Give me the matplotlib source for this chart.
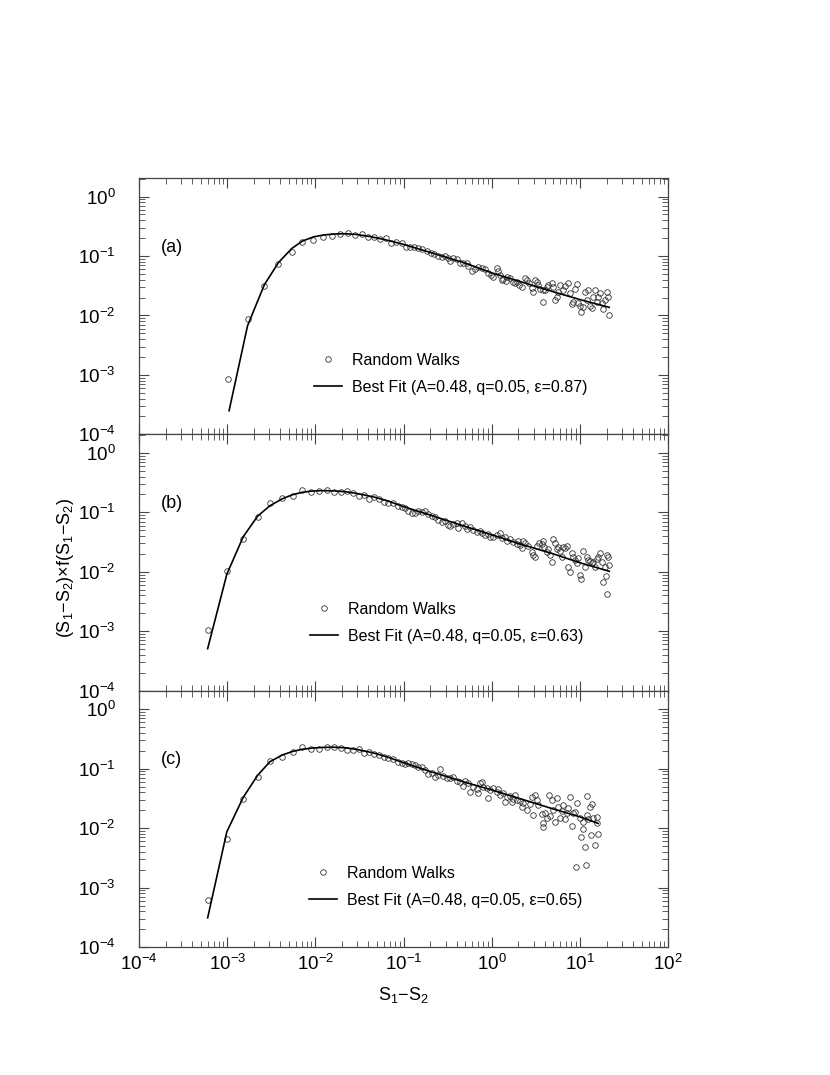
import numpy as np
import matplotlib.pyplot as plt
from matplotlib.ticker import LogLocator, NullFormatter
from matplotlib.legend_handler import HandlerLine2D

plt.rcParams['font.family'] = ['Liberation Sans', 'DejaVu Sans']
plt.rcParams['mathtext.fontset'] = 'custom'
plt.rcParams['mathtext.rm'] = 'Liberation Sans'
plt.rcParams['mathtext.it'] = 'Liberation Sans:italic'
plt.rcParams['mathtext.default'] = 'regular'

# ---- panel (a) ----
xa_rw = [1.03e-3, 1.7e-3, 2.64e-3, 3.8e-3, 5.4e-3, 7.1e-3, 9.5e-3, 0.0123, 0.0156, 0.019,
         0.0233, 0.0282, 0.034, 0.0398, 0.0466, 0.054, 0.0627, 0.072, 0.082,
         0.095, 0.106, 0.118, 0.131, 0.147, 0.163, 0.182, 0.203, 0.223, 0.248,
         0.27, 0.294, 0.321, 0.336, 0.366, 0.399, 0.435, 0.475, 0.519, 0.542,
         0.591, 0.644, 0.703, 0.767, 0.837, 0.914, 0.97, 1.04, 1.135, 1.186,
         1.24, 1.29, 1.35, 1.45, 1.5, 1.61, 1.72, 1.83, 1.95, 2.05,
         2.18, 2.38, 2.48, 2.66, 2.83, 2.96, 3.09, 3.23, 3.37, 3.52,
         3.77, 3.84, 4.01, 4.19, 4.37, 4.77, 4.99, 5.2, 5.43, 5.67,
         5.93, 6.47, 6.76, 7.25, 7.7, 8.04, 8.4, 8.77, 9.16, 9.57,
         10.0, 10.4, 10.9, 11.4, 11.9, 12.4, 13.0, 13.6, 14.2, 14.8,
         15.5, 16.1, 16.9, 17.6, 18.4, 19.2, 20.0, 20.9, 21.5]
ya_rw = [8.5e-4, 8.8e-3, 0.031, 0.074, 0.117, 0.172, 0.186, 0.207, 0.22, 0.232,
         0.247, 0.229, 0.234, 0.207, 0.207, 0.19, 0.20, 0.167, 0.174,
         0.164, 0.140, 0.140, 0.140, 0.135, 0.133, 0.121, 0.114, 0.108, 0.100,
         0.0975, 0.101, 0.0914, 0.0834, 0.0925, 0.090, 0.0752, 0.0772, 0.0752, 0.0678,
         0.0566, 0.0596, 0.0644, 0.0619, 0.0596, 0.0523, 0.0478, 0.0437, 0.0619, 0.0558,
         0.0478, 0.0394, 0.0404, 0.0379, 0.0437, 0.042, 0.0369, 0.0346, 0.0369, 0.0324,
         0.0304, 0.042, 0.0394, 0.0355, 0.0285, 0.025, 0.0394, 0.0369, 0.0324, 0.0274,
         0.0166, 0.0267, 0.0267, 0.0296, 0.0324, 0.0346, 0.0304, 0.0181, 0.0206, 0.025,
         0.0324, 0.0267, 0.0312, 0.0355, 0.0235, 0.0155, 0.017, 0.0274, 0.0337, 0.0159,
         0.0144, 0.0115, 0.014, 0.025, 0.0181, 0.0267, 0.0144, 0.0131, 0.0206, 0.0267,
         0.017, 0.0206, 0.0235, 0.0159, 0.0126, 0.0181, 0.025, 0.0201, 0.0101]
xa_fit = [1.05e-3, 1.7e-3, 2.64e-3, 3.8e-3, 5.4e-3, 7.1e-3, 9.5e-3, 0.0125, 0.016, 0.021,
          0.028, 0.04, 0.06, 0.1, 0.2, 0.5, 1.0, 2.0, 5.0, 10.0, 21.5]
ya_fit = [2.5e-4, 6.7e-3, 0.033, 0.077, 0.134, 0.178, 0.21, 0.226, 0.234, 0.237,
          0.232, 0.215, 0.19, 0.157, 0.115, 0.076, 0.052, 0.038, 0.025, 0.0185, 0.0137]

# ---- panel (b) ----
xb_rw = [6.0e-4, 9.9e-4, 1.52e-3, 2.22e-3, 3.05e-3, 4.2e-3, 5.5e-3, 7.05e-3, 9.0e-3, 0.011,
         0.0134, 0.0164, 0.0194, 0.0226, 0.0269, 0.0315, 0.0359, 0.0409, 0.0466, 0.053,
         0.0605, 0.067, 0.0765, 0.0857,
         0.095, 0.104, 0.113, 0.123, 0.135, 0.147, 0.160, 0.175, 0.191, 0.208,
         0.227, 0.248, 0.27, 0.294, 0.321, 0.336, 0.366, 0.399, 0.417, 0.455,
         0.497, 0.519, 0.566, 0.617, 0.673, 0.735, 0.767, 0.837, 0.914, 0.953,
         1.04, 1.135, 1.24, 1.29, 1.41, 1.47, 1.61, 1.75, 1.91, 2.0,
         2.09, 2.18, 2.28, 2.38, 2.59, 2.83, 2.96, 3.09, 3.23, 3.46,
         3.67, 3.77, 3.91, 4.19, 4.37, 4.57, 4.77, 4.99, 5.2, 5.43,
         5.67, 5.93, 6.19, 6.47, 6.76, 7.06, 7.38, 7.7, 8.04, 8.4,
         8.77, 9.16, 9.57, 10.0, 10.4, 10.9, 11.4, 11.9, 12.4, 13.0,
         13.6, 14.2, 14.8, 15.5, 16.1, 16.9, 17.6, 18.4, 19.2, 19.7,
         20.0, 20.4, 20.9, 21.5]
yb_rw = [1.06e-3, 0.0104, 0.0352, 0.083, 0.146, 0.173, 0.19, 0.24, 0.216, 0.225,
         0.234, 0.219, 0.216, 0.225, 0.211, 0.19, 0.195, 0.169, 0.18, 0.171,
         0.152, 0.146, 0.143, 0.129,
         0.122, 0.117, 0.107, 0.0968, 0.0993, 0.107, 0.103, 0.107, 0.0944, 0.0873,
         0.0828, 0.0746, 0.070, 0.0728, 0.0615, 0.0591, 0.064, 0.0656, 0.054, 0.0656,
         0.0591, 0.052, 0.0562, 0.0507, 0.0475, 0.0493, 0.0445, 0.0417, 0.0434, 0.0381,
         0.0391, 0.0417, 0.0456, 0.0366, 0.0381, 0.0334, 0.0352, 0.0322, 0.0294, 0.0334,
         0.0282, 0.0248, 0.0334, 0.0309, 0.0272, 0.0218, 0.0191, 0.0179, 0.0272, 0.0309,
         0.0294, 0.0334, 0.0258, 0.0218, 0.0239, 0.0191, 0.0148, 0.0352, 0.0301, 0.0239,
         0.0265, 0.0226, 0.0179, 0.0258, 0.0248, 0.0272, 0.0119, 0.010, 0.021, 0.0179,
         0.0158, 0.0138, 0.0168, 0.0088, 0.0077, 0.0226, 0.0122, 0.0175, 0.0158, 0.0154,
         0.0138, 0.0148, 0.0122, 0.0162, 0.0175, 0.021, 0.0148, 0.0068, 0.0122, 0.0085,
         0.0191, 0.0042, 0.0175, 0.013]
xb_fit = [6.0e-4, 9.9e-4, 1.52e-3, 2.22e-3, 3.05e-3, 4.2e-3, 5.5e-3, 7.05e-3, 9.0e-3, 0.012,
          0.016, 0.022, 0.03, 0.045, 0.065, 0.1, 0.2, 0.5, 1.0, 2.0, 5.0, 10.0, 21.5]
yb_fit = [5.1e-4, 9.1e-3, 0.039, 0.087, 0.129, 0.169, 0.198, 0.217, 0.228, 0.232,
          0.23, 0.222, 0.207, 0.183, 0.157, 0.125, 0.09, 0.058, 0.042, 0.03, 0.02, 0.0142, 0.0102]

# ---- panel (c) ----
xc_rw = [6.0e-4, 9.9e-4, 1.52e-3, 2.22e-3, 3.05e-3, 4.2e-3, 5.5e-3, 7.05e-3, 9.0e-3, 0.011,
         0.0134, 0.0164, 0.0194, 0.0226, 0.0269, 0.0315, 0.0359, 0.0409, 0.0466, 0.053,
         0.0605, 0.067, 0.0765, 0.0857,
         0.095, 0.104, 0.113, 0.123, 0.135, 0.147, 0.160, 0.175, 0.191, 0.208,
         0.227, 0.248, 0.259, 0.282, 0.308, 0.336, 0.366, 0.399, 0.435, 0.475,
         0.497, 0.542, 0.566, 0.617, 0.673, 0.703, 0.735, 0.767, 0.802, 0.875,
         0.914, 0.953, 1.04, 1.135, 1.186, 1.24, 1.35, 1.41, 1.47, 1.61,
         1.68, 1.75, 1.83, 1.91, 2.09, 2.18, 2.28, 2.48, 2.71, 2.83,
         2.96, 3.09, 3.23, 3.37, 3.67, 3.77, 3.84, 4.01, 4.19, 4.49,
         4.57, 4.77, 4.99, 5.2, 5.43, 5.67, 5.93, 6.19, 6.47, 6.76,
         7.06, 7.38, 7.7, 8.04, 8.4, 8.77, 9.0, 9.33, 10.0, 10.4,
         10.7, 10.9, 11.4, 11.7, 11.9, 12.1, 12.4, 13.0, 13.2, 13.6,
         14.2, 14.8, 15.5, 15.7, 16.1]
yc_rw = [6.1e-4, 6.6e-3, 0.0304, 0.0714, 0.135, 0.159, 0.191, 0.235, 0.217, 0.217,
         0.235, 0.229, 0.226, 0.206, 0.206, 0.212, 0.186, 0.191, 0.177, 0.172,
         0.155, 0.149, 0.144, 0.131,
         0.126, 0.12, 0.123, 0.12, 0.115, 0.105, 0.105, 0.095, 0.0813, 0.0857,
         0.0733, 0.0782, 0.0975, 0.0752, 0.0687, 0.0687, 0.0733, 0.0628, 0.0604, 0.051,
         0.0628, 0.0566, 0.0409, 0.0498, 0.0449, 0.0384, 0.0581, 0.0604, 0.0485, 0.0467,
         0.0316, 0.0438, 0.0467, 0.0409, 0.0449, 0.036, 0.0384, 0.0278, 0.0337, 0.0347,
         0.0278, 0.0304, 0.036, 0.0296, 0.0289, 0.0229, 0.0261, 0.0201, 0.0254, 0.0337,
         0.0166, 0.036, 0.0296, 0.0244, 0.0172, 0.0105, 0.012, 0.0177, 0.0151, 0.036,
         0.0159, 0.0296, 0.0201, 0.0128, 0.0316, 0.0229, 0.0146, 0.0196, 0.0244, 0.014,
         0.0177, 0.0215, 0.0337, 0.0108, 0.0177, 0.0188, 0.0022, 0.0267, 0.0146, 0.0071,
         0.0095, 0.0128, 0.0049, 0.0024, 0.0166, 0.0347, 0.014, 0.0229, 0.0076, 0.0254,
         0.0151, 0.0052, 0.0155, 0.0123, 0.0079]
xc_fit = [6.0e-4, 9.9e-4, 1.52e-3, 2.22e-3, 3.05e-3, 4.2e-3, 5.5e-3, 7.05e-3, 9.0e-3, 0.012,
          0.016, 0.022, 0.03, 0.045, 0.065, 0.1, 0.2, 0.5, 1.0, 2.0, 5.0, 10.0, 16.1]
yc_fit = [3.1e-4, 8.7e-3, 0.033, 0.078, 0.131, 0.17, 0.195, 0.212, 0.222, 0.228,
          0.23, 0.225, 0.21, 0.185, 0.158, 0.126, 0.09, 0.059, 0.044, 0.032, 0.021, 0.0155, 0.012]

panels = [
    ("(a)", xa_rw, ya_rw, xa_fit, ya_fit, "0.87"),
    ("(b)", xb_rw, yb_rw, xb_fit, yb_fit, "0.63"),
    ("(c)", xc_rw, yc_rw, xc_fit, yc_fit, "0.65"),
]
legend_pos = [(0.331, 0.318), (0.323, 0.347), (0.321, 0.318)]


class EndMarker(HandlerLine2D):
    # put the symbol at the right end of the legend handle
    def get_xdata(self, legend, xdescent, ydescent, width, height, fontsize):
        xdata, _ = super().get_xdata(legend, xdescent, ydescent, width, height, fontsize)
        return xdata, np.array([-xdescent + width])


fig, axes = plt.subplots(3, 1, sharex=True, figsize=(8.3, 10.75), dpi=100)
fig.subplots_adjust(left=0.1675, right=0.805, top=0.8344, bottom=0.119, hspace=0)

edge = '#444444'
for ax, (tag, xr, yr, xf, yf, eps), lpos in zip(axes, panels, legend_pos):
    ax.plot(xr, yr, linestyle='none', marker='o', markersize=4, markerfacecolor='none',
            markeredgecolor='#333333', markeredgewidth=0.6, label='Random Walks')
    ax.plot(xf, yf, color='black', lw=1.2,
            label='Best Fit (A=0.48, q=0.05, \u03b5=%s)' % eps)
    ax.set_xscale('log')
    ax.set_yscale('log')
    ax.set_xlim(1e-4, 1e2)
    ax.set_ylim(1e-4, 2.05)
    ax.xaxis.set_major_locator(LogLocator(base=10, numticks=10))
    ax.xaxis.set_minor_locator(LogLocator(base=10, subs=np.arange(2, 10), numticks=100))
    ax.yaxis.set_major_locator(LogLocator(base=10, numticks=10))
    ax.yaxis.set_minor_locator(LogLocator(base=10, subs=np.arange(2, 10), numticks=100))
    ax.xaxis.set_minor_formatter(NullFormatter())
    ax.yaxis.set_minor_formatter(NullFormatter())
    ax.tick_params(which='both', direction='in', top=True, right=True, color=edge,
                   labelsize=13.5)
    ax.tick_params(which='major', length=7, width=0.8)
    ax.tick_params(which='minor', length=4, width=0.6)
    ax.tick_params(axis='y', pad=17)
    ax.tick_params(axis='x', pad=5)
    for sp in ax.spines.values():
        sp.set_color(edge)
        sp.set_linewidth(0.9)
    ax.text(0.062, 0.73, tag, transform=ax.transAxes, fontsize=13, va='center', ha='center')
    h_rw, h_fit = ax.get_lines()
    ax.legend(handles=[h_rw, h_fit], loc='upper left', bbox_to_anchor=lpos,
              frameon=False, fontsize=11.5, borderpad=0, borderaxespad=0,
              handlelength=1.75, handletextpad=0.62, labelspacing=0.75,
              handler_map={h_rw: EndMarker(numpoints=1)})

axes[-1].set_xlabel('S$_1$\u2212S$_2$', fontsize=13, labelpad=8)
fig.text(65 / 830, 1 - 568 / 1075, '(S$_1$\u2212S$_2$)\u00d7f(S$_1$\u2212S$_2$)',
         rotation=90, ha='center', va='center', fontsize=13)

fig.savefig('out.png', dpi=100)
